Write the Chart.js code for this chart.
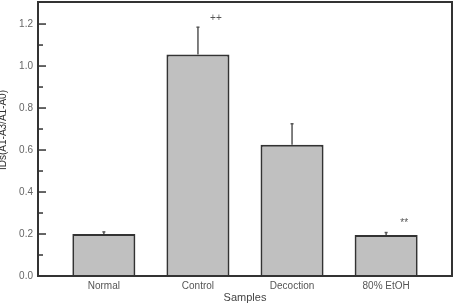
<!DOCTYPE html>
<html>
<head>
<meta charset="utf-8">
<script src="https://cdn.jsdelivr.net/npm/chart.js@4/dist/chart.umd.min.js"></script>
<style>
  html, body { margin: 0; padding: 0; background: #fff; }
  #wrap { width: 461px; height: 306px; }
</style>
</head>
<body>
<div id="wrap"><canvas id="c" width="461" height="306"></canvas></div>
<script>
const CATEGORIES = ["Normal", "Control", "Decoction", "80% EtOH"];
const VALUES = [0.20, 1.055, 0.625, 0.195];
const ERRORS = [0.01, 0.13, 0.10, 0.012];
const MARKS = ["", "++", "", "**"];
const Y_TICKS = [0.0, 0.2, 0.4, 0.6, 0.8, 1.0, 1.2];

const FONT = "'Liberation Sans', Arial, sans-serif";
const AXIS_COLOR = "#333";

// frame, inward ticks, error bars, significance marks, y title
const extras = {
  id: "extras",
  afterDatasetsDraw(chart) {
    const ctx = chart.ctx;
    const ys = chart.scales.y;
    const meta = chart.getDatasetMeta(0);
    ctx.save();

    // error bars (upper only)
    ctx.strokeStyle = "#555";
    ctx.lineWidth = 1.5;
    meta.data.forEach((bar, i) => {
      const top = ys.getPixelForValue(VALUES[i] + ERRORS[i]);
      ctx.beginPath();
      ctx.moveTo(bar.x, bar.y);
      ctx.lineTo(bar.x, top);
      ctx.stroke();
      ctx.beginPath();
      ctx.moveTo(bar.x - 1.5, top);
      ctx.lineTo(bar.x + 1.5, top);
      ctx.stroke();
    });

    // marks
    ctx.fillStyle = "#555";
    ctx.font = "10px " + FONT;
    ctx.textAlign = "center";
    ctx.textBaseline = "middle";
    meta.data.forEach((bar, i) => {
      if (!MARKS[i]) return;
      const y = ys.getPixelForValue(VALUES[i] + ERRORS[i]) - 9;
      ctx.fillText(MARKS[i], bar.x + 18, y);
    });

    // frame
    const a = chart.chartArea;
    ctx.strokeStyle = AXIS_COLOR;
    ctx.lineWidth = 2;
    ctx.strokeRect(a.left, a.top, a.right - a.left, a.bottom - a.top);

    // inward ticks
    ctx.lineWidth = 1.5;
    Y_TICKS.forEach((v, i) => {
      const y = ys.getPixelForValue(v);
      ctx.beginPath();
      ctx.moveTo(a.left, y);
      ctx.lineTo(a.left + 8, y);
      ctx.stroke();
      if (i < Y_TICKS.length - 1) {
        const ym = ys.getPixelForValue(v + 0.1);
        ctx.beginPath();
        ctx.moveTo(a.left, ym);
        ctx.lineTo(a.left + 5, ym);
        ctx.stroke();
      }
    });

    // y title (partly clipped at the left edge, as in the source)
    ctx.fillStyle = "#333";
    ctx.font = "10px " + FONT;
    ctx.translate(3, 130);
    ctx.rotate(-Math.PI / 2);
    ctx.fillText("IDs(A1-A3/A1-A0)", 0, 0);
    ctx.restore();
  }
};

new Chart(document.getElementById("c"), {
  type: "bar",
  data: {
    datasets: [{
      data: VALUES.map((v, i) => ({ x: i + 1, y: v })),
      backgroundColor: "#c0c0c0",
      borderColor: AXIS_COLOR,
      borderWidth: 2,
      categoryPercentage: 1,
      barPercentage: 0.67
    }]
  },
  options: {
    responsive: false,
    animation: false,
    events: [],
    layout: { padding: { left: 0, right: 9, top: 2, bottom: 0 } },
    plugins: { legend: { display: false }, tooltip: { enabled: false } },
    scales: {
      x: {
        type: "linear",
        offset: false,
        min: 0.3,
        max: 4.7,
        grid: { display: false, drawTicks: false, offset: false },
        border: { display: false },
        afterBuildTicks: s => { s.ticks = CATEGORIES.map((_, i) => ({ value: i + 1 })); },
        afterFit: s => { s.height = 30; s.paddingLeft = 0; s.paddingRight = 0; },
        ticks: {
          padding: 4,
          color: "#555",
          font: { family: FONT, size: 10 },
          maxRotation: 0,
          autoSkip: false,
          callback: v => CATEGORIES[v - 1] || ""
        },
        title: {
          display: true,
          text: "Samples",
          color: "#444",
          font: { family: FONT, size: 11 },
          padding: { top: 0, bottom: 1 }
        }
      },
      y: {
        min: 0,
        max: 1.305,
        grid: { display: false, drawTicks: false },
        border: { display: false },
        afterBuildTicks: s => { s.ticks = Y_TICKS.map(v => ({ value: v })); },
        afterFit: s => { s.width = 38; s.paddingTop = 0; s.paddingBottom = 0; },
        ticks: {
          padding: 5,
          color: "#666",
          font: { family: FONT, size: 10 },
          callback: v => v.toFixed(1)
        }
      }
    }
  },
  plugins: [extras]
});
</script>
</body>
</html>
